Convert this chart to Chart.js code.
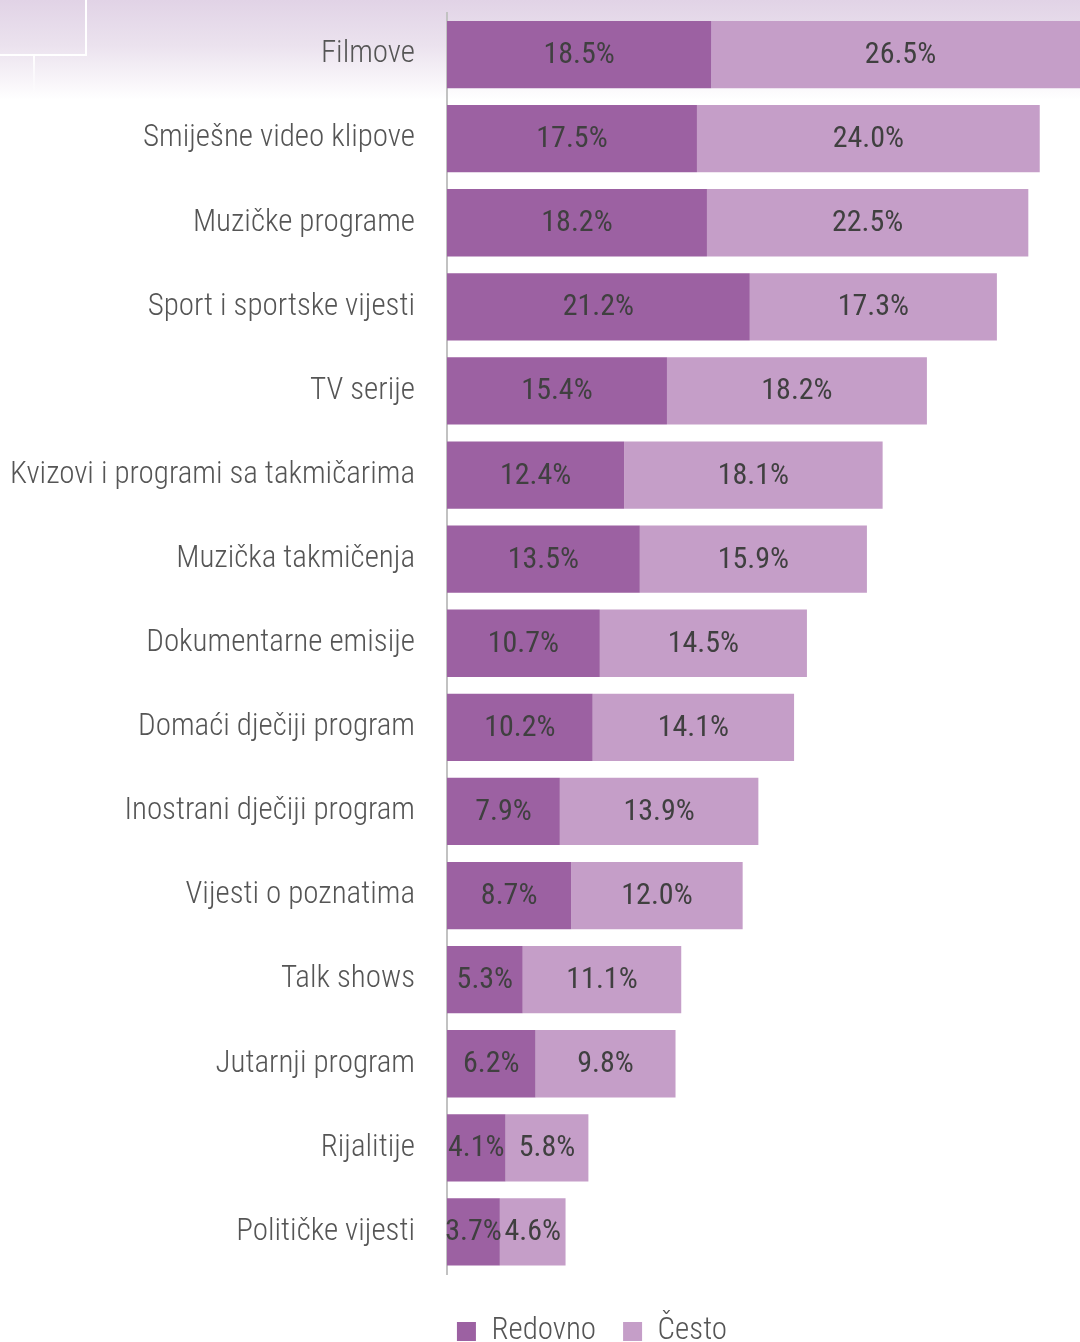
<!DOCTYPE html>
<html>
<head>
<meta charset="utf-8">
<script src="https://cdn.jsdelivr.net/npm/chart.js@4/dist/chart.umd.min.js"></script>
<style>
  html, body { margin: 0; padding: 0; width: 1080px; height: 1342px; overflow: hidden; background: #fff; }
  #bg { position: absolute; left: 0; top: 0; width: 1080px; height: 110px;
        background: linear-gradient(to bottom, #e1d3e6 0px, #ebe2ee 45px, #ffffff 100px); }
  #sq { position: absolute; left: -3px; top: -3px; width: 90px; height: 59px; border: 2px solid #ffffff; box-sizing: border-box; }
  #vl { position: absolute; left: 33px; top: 56px; width: 2px; height: 42px;
        background: linear-gradient(to bottom, rgba(255,255,255,1), rgba(255,255,255,0)); }
  #wrap { position: absolute; left: 0; top: 0; width: 1184px; height: 1357px; }
</style>
</head>
<body>
<div id="bg"></div>
<div id="sq"></div>
<div id="vl"></div>
<div id="wrap"><canvas id="c"></canvas></div>
<script>
const categories = [
  'Filmove', 'Smiješne video klipove', 'Muzičke programe', 'Sport i sportske vijesti',
  'TV serije', 'Kvizovi i programi sa takmičarima', 'Muzička takmičenja',
  'Dokumentarne emisije', 'Domaći dječiji program', 'Inostrani dječiji program',
  'Vijesti o poznatima', 'Talk shows', 'Jutarnji program', 'Rijalitije', 'Političke vijesti'
];
const seriesNames = ['Redovno', 'Često'];
const redovno = [18.5, 17.5, 18.2, 21.2, 15.4, 12.4, 13.5, 10.7, 10.2, 7.9, 8.7, 5.3, 6.2, 4.1, 3.7];
const cesto   = [26.5, 24.0, 22.5, 17.3, 18.2, 18.1, 15.9, 14.5, 14.1, 13.9, 12.0, 11.1, 9.8, 5.8, 4.6];

const FONT = "'Roboto Condensed', 'DejaVu Sans Condensed', sans-serif";

const valueLabels = {
  id: 'valueLabels',
  afterDatasetsDraw(chart) {
    const ctx = chart.ctx;
    ctx.save();
    ctx.font = '400 30px ' + FONT;
    ctx.fillStyle = '#404040';
    ctx.textAlign = 'center';
    ctx.textBaseline = 'middle';
    chart.data.datasets.forEach((ds, di) => {
      chart.getDatasetMeta(di).data.forEach((bar, i) => {
        const p = bar.getProps(['x', 'y', 'base'], true);
        const cx = (p.x + p.base) / 2;
        ctx.fillText(ds.data[i].toFixed(1) + '%', cx, p.y + 1);
      });
    });
    ctx.restore();
  }
};

new Chart(document.getElementById('c'), {
  type: 'bar',
  data: {
    labels: categories,
    datasets: [
      { label: seriesNames[0], data: redovno, backgroundColor: '#9c61a2', borderWidth: 0 },
      { label: seriesNames[1], data: cesto, backgroundColor: '#c59ec8', borderWidth: 0 }
    ]
  },
  options: {
    indexAxis: 'y',
    responsive: true,
    maintainAspectRatio: false,
    animation: false,
    layout: { padding: { top: 12.5, right: 0, bottom: 0, left: 0 } },
    datasets: { bar: { barPercentage: 0.8, categoryPercentage: 1.0 } },
    scales: {
      x: { stacked: true, display: false, min: 0, max: 51.6 },
      y: {
        stacked: true,
        afterFit(scale) { scale.width = 447; scale.paddingTop = 0; scale.paddingBottom = 0; },
        grid: { display: true, drawOnChartArea: false, drawTicks: false },
        border: { display: true, color: '#c2c2c2', width: 2 },
        ticks: { color: '#555555', padding: 32, font: { family: FONT, size: 31, weight: 300 } }
      }
    },
    plugins: {
      tooltip: { enabled: false },
      legend: {
        position: 'bottom',
        title: { display: true, text: '', font: { size: 10 }, padding: { top: 0, bottom: 3 } },
        labels: {
          color: '#555555',
          boxWidth: 19, boxHeight: 19,
          padding: 27,
          font: { family: FONT, size: 31, weight: 300 }
        }
      }
    }
  },
  plugins: [valueLabels]
});
</script>
</body>
</html>
